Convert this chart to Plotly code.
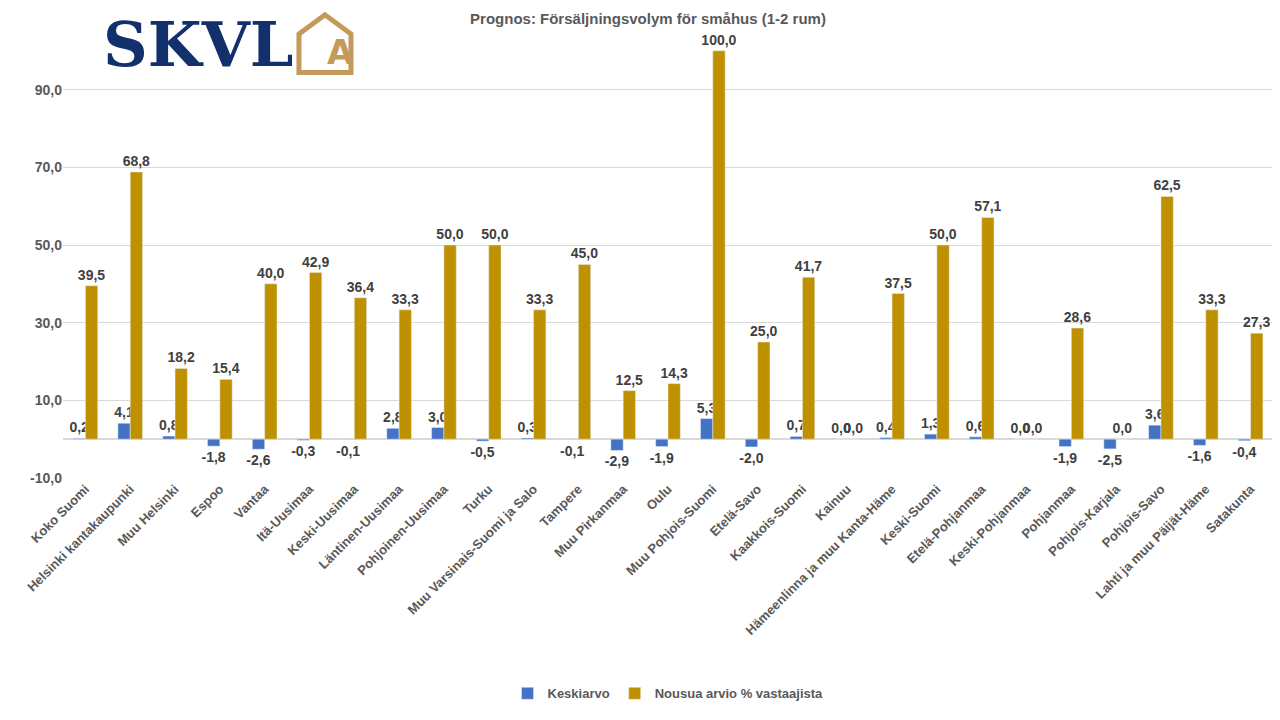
import plotly.graph_objects as go

categories = ["Koko Suomi", "Helsinki kantakaupunki", "Muu Helsinki", "Espoo", "Vantaa",
              "Itä-Uusimaa", "Keski-Uusimaa", "Läntinen-Uusimaa", "Pohjoinen-Uusimaa", "Turku",
              "Muu Varsinais-Suomi ja Salo", "Tampere", "Muu Pirkanmaa", "Oulu", "Muu Pohjois-Suomi",
              "Etelä-Savo", "Kaakkois-Suomi", "Kainuu", "Hämeenlinna ja muu Kanta-Häme", "Keski-Suomi",
              "Etelä-Pohjanmaa", "Keski-Pohjanmaa", "Pohjanmaa", "Pohjois-Karjala", "Pohjois-Savo",
              "Lahti ja muu Päijät-Häme", "Satakunta"]
keskiarvo = [0.2, 4.1, 0.8, -1.8, -2.6, -0.3, -0.1, 2.8, 3.0, -0.5, 0.3, -0.1, -2.9, -1.9, 5.3,
             -2.0, 0.7, 0.0, 0.4, 1.3, 0.6, 0.0, -1.9, -2.5, 3.6, -1.6, -0.4]
nousua = [39.5, 68.8, 18.2, 15.4, 40.0, 42.9, 36.4, 33.3, 50.0, 50.0, 33.3, 45.0, 12.5, 14.3, 100.0,
          25.0, 41.7, 0.0, 37.5, 50.0, 57.1, 0.0, 28.6, 0.0, 62.5, 33.3, 27.3]
yticks = [-10, 10, 30, 50, 70, 90]


def fi(v):
    return f"{v:.1f}".replace(".", ",")


fig = go.Figure()
fig.add_trace(go.Bar(x=categories, y=keskiarvo, name="<b>Keskiarvo</b>", marker_color="#4472C4",
                     text=[fi(v) for v in keskiarvo], textposition="outside", cliponaxis=False))
fig.add_trace(go.Bar(x=categories, y=nousua, name="<b>Nousua arvio % vastaajista</b>",
                     marker_color="#BF9000",
                     text=[fi(v) for v in nousua], textposition="outside", cliponaxis=False))
fig.update_traces(texttemplate="<b>%{text}</b>",
                  textfont=dict(size=14, color="#404040", family="Liberation Sans"),
                  textangle=0, constraintext="none")

fig.update_layout(
    width=1280, height=720, plot_bgcolor="white", paper_bgcolor="white",
    barmode="group", bargap=0.45, bargroupgap=0.0,
    margin=dict(l=55, r=15, t=4, b=250),
    font=dict(family="Liberation Sans", color="#595959", size=13),
    title=dict(text="<b>Prognos: Försäljningsvolym för småhus (1-2 rum)</b>", x=0.5, y=0.993,
               yanchor="top", xanchor="center", font=dict(size=15, color="#595959")),
    yaxis=dict(range=[-10, 110], tickvals=yticks, ticktext=[f"<b>{fi(v)}</b>" for v in yticks],
               gridcolor="#D9D9D9", zeroline=True, zerolinecolor="#D9D9D9",
               tickfont=dict(size=14, color="#595959"), showline=False, automargin=False),
    xaxis=dict(tickangle=-45, tickfont=dict(size=13, color="#595959"), showline=False,
               automargin=False, tickprefix="<b>", ticksuffix="</b>"),
    legend=dict(orientation="h", x=0.5, xanchor="center", y=-0.43, yanchor="top",
                font=dict(size=13, color="#595959")),
)
# logo
fig.add_annotation(text="<b>SKVL</b>", xref="paper", yref="paper", x=0.031, y=0.93, xanchor="left",
                   yanchor="middle", showarrow=False,
                   font=dict(size=62, color="#12306B", family="DejaVu Serif"))
fig.add_shape(type="path", xref="paper", yref="paper",
              path="M 0.195 0.87 L 0.195 0.953 L 0.2165 0.994 L 0.238 0.953 L 0.238 0.87 Z",
              line=dict(color="#C49A5A", width=5))
fig.add_annotation(text="<b>A</b>", xref="paper", yref="paper", x=0.2165, y=0.915, showarrow=False,
                   yanchor="middle", font=dict(size=34, color="#C49A5A", family="DejaVu Sans"))
fig.write_html("out.html")
